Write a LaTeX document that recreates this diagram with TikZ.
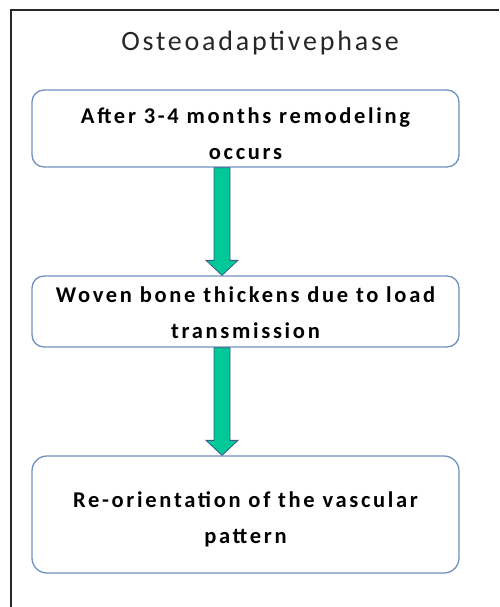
\documentclass[tikz,border=0pt]{standalone}
\usepackage{fontspec}
\setmainfont{Carlito}
\usetikzlibrary{calc}
\definecolor{boxblue}{RGB}{112,144,192}
\definecolor{arrowfill}{RGB}{0,200,150}
\definecolor{arrowline}{RGB}{60,90,140}
\definecolor{framegray}{RGB}{40,40,40}
\newcommand\fatarrow[2]{%
  \draw[arrowline, fill=arrowfill, line width=0.8pt, line join=miter]
    ($(#1)+(-8,0)$) -- ($(#2)+(-8,15)$) -- ($(#2)+(-16,15)$) -- (#2)
    -- ($(#2)+(16,15)$) -- ($(#2)+(8,15)$) -- ($(#1)+(8,0)$) -- cycle;}
\begin{document}
\begin{tikzpicture}[x=1pt,y=1pt,
  stepbox/.style={draw=boxblue, line width=1.3pt, rounded corners=12pt,
    minimum width=427pt, inner sep=0pt},
  steptext/.style={align=center, inner sep=0pt,
    font=\bfseries\fontsize{22.5}{36}\selectfont\addfontfeatures{LetterSpace=12}},
  titletext/.style={font=\fontsize{28}{30}\selectfont\addfontfeatures{LetterSpace=10}, text=black!85}
]
\useasboundingbox (0,0) rectangle (499,-607);
\draw[line width=1.4pt, framegray] (11,-607) |- (499,-10);
\node[titletext] (title) at (260,-43) {Osteoadaptivephase};
\node[stepbox, minimum height=77pt] (b1) at (245.5,-128.5) {};
\node[stepbox, minimum height=71pt] (b2) at (245.5,-311.5) {};
\node[stepbox, minimum height=117pt, rounded corners=15pt] (b3) at (245.5,-514.5) {};
\node[steptext] (t1) at ($(b1.center)+(0,-5.5)$) {After 3-4 months remodeling\\occurs};
\node[steptext] (t2) at ($(b2.center)+(0,-1.5)$) {Woven bone thickens due to load\\transmission};
\node[steptext] (t3) at ($(b3.center)+(0,-4.5)$) {Re-orientation of the vascular\\pattern};
\coordinate (a1s) at ($(b1.south)+(-23.5,0)$);
\coordinate (a1e) at ($(b2.north)+(-23.5,0)$);
\coordinate (a2s) at ($(b2.south)+(-23.5,0)$);
\coordinate (a2e) at ($(b3.north)+(-23.5,0)$);
\fatarrow{a1s}{a1e}
\fatarrow{a2s}{a2e}
\end{tikzpicture}
\end{document}
